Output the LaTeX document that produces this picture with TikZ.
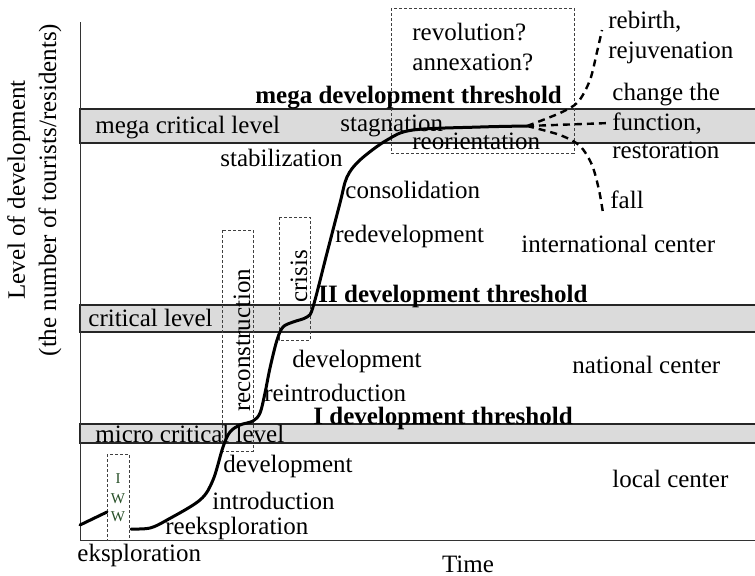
\documentclass[tikz,border=0pt]{standalone}
\usepackage{fontspec}
\setmainfont{Liberation Serif}
\usetikzlibrary{calc}
\definecolor{iwwgreen}{RGB}{40,80,40}
\tikzset{
  lbl/.style={font=\fontsize{12.5}{15}\selectfont, inner sep=0pt, anchor=base west},
  thr/.style={lbl, font=\fontsize{12.5}{15}\selectfont\bfseries},
  band/.style={fill=black!14},
  bandline/.style={line width=1pt, black!85},
  phasebox/.style={draw=black!75, line width=0.4pt, dash pattern=on 1.5pt off 1pt},
  trend/.style={line width=1.5pt, line cap=round, line join=round},
  branch/.style={line width=1.2pt, dash pattern=on 3.5pt off 2.5pt},
}
\begin{document}
\begin{tikzpicture}[x=0.5pt,y=-0.5pt]
\useasboundingbox (0,0) rectangle (755,575);
% critical bands
\fill[band] (80,109) rectangle (755,143);
\draw[bandline] (755,109) -- (80,109) -- (80,143) -- (755,143);
\fill[band] (80,305) rectangle (755,332);
\draw[bandline] (755,305) -- (80,305) -- (80,332) -- (755,332);
\fill[band] (80,424) rectangle (755,443);
\draw[bandline] (755,424) -- (80,424) -- (80,443) -- (755,443);
% axes
\draw[black!80,line width=0.5pt] (80,22) -- (80,540) -- (755,540);
% phase boxes
\draw[phasebox] (391,8) rectangle (574,153);
\draw[phasebox] (279,217) rectangle (310,340);
\draw[phasebox] (222,230) rectangle (253,451);
\draw[phasebox] (107,454) rectangle (129,540);
% development curve
\draw[trend] (80,525) -- (107,512);
\draw[trend] plot[smooth,tension=0.55] coordinates {(131,529) (150,528) (167,520) (200,500) (213,480) (223,447) (230,432) (240,425) (253,421) (260,413) (265,393) (270,368) (277,340) (283,327) (293,322) (307,317) (313,307) (327,253) (340,203) (347,177) (360,160) (387,140) (413,130) (480,127) (527,126)};
\coordinate (fork) at (527,126);
\coordinate (up) at (602,30);
\coordinate (mid) at (610,123);
\coordinate (down) at (603,213);
\draw[branch] plot[smooth] coordinates {(fork) (560,113) (578,102) (590,80) (597,52) (up)};
\draw[branch] (fork) -- (mid);
\draw[branch] plot[smooth] coordinates {(fork) (560,135) (580,146) (592,165) (599,190) (down)};
% thresholds and levels
\node[thr] (megathr) at (255,103) {mega development threshold};
\node[thr] (twothr) at (318,302) {II development threshold};
\node[thr] (onethr) at (313,424) {I development threshold};
\node[lbl] (megalvl) at (95,133) {mega critical level};
\node[lbl] (critlvl) at (88,326) {critical level};
\node[lbl] (microlvl) at (95,442) {micro critical level};
% stages
\node[lbl] (eksp) at (77,561) {eksploration};
\node[lbl] (reeksp) at (165,534) {reeksploration};
\node[lbl] (intro) at (212,509) {introduction};
\node[lbl] (devone) at (223,472) {development};
\node[lbl] (reintro) at (264,401) {reintroduction};
\node[lbl] (devtwo) at (292,367) {development};
\node[lbl] (redev) at (335,242) {redevelopment};
\node[lbl] (consol) at (345,198) {consolidation};
\node[lbl] (stabil) at (220,166) {stabilization};
\node[lbl] (stagn) at (340,131) {stagnation};
\node[lbl] (reorient) at (412,149) {reorientation};
\node[lbl] (revol) at (412,40) {revolution?};
\node[lbl] (annex) at (412,70) {annexation?};
\node[lbl] (rebirth) at (608,28) {rebirth,};
\node[lbl] (rejuv) at (608,58) {rejuvenation};
\node[lbl] (change) at (612,100) {change the};
\node[lbl] (func) at (612,130) {function,};
\node[lbl] (restor) at (612,158) {restoration};
\node[lbl] (fall) at (610,208) {fall};
\node[lbl,rotate=90] (recon) at (250,412) {reconstruction};
\node[lbl,rotate=90] (crisis) at (307,303) {crisis};
\node[font=\fontsize{7.5}{9}\selectfont,text=iwwgreen,inner sep=0pt,anchor=base] (iwwa) at (118,483) {I};
\node[font=\fontsize{7.5}{9}\selectfont,text=iwwgreen,inner sep=0pt,anchor=base] (iwwb) at (118,503) {W};
\node[font=\fontsize{7.5}{9}\selectfont,text=iwwgreen,inner sep=0pt,anchor=base] (iwwc) at (118,521) {W};
% centers
\node[lbl] (intl) at (521,252) {international center};
\node[lbl] (natl) at (572,373) {national center};
\node[lbl] (locl) at (612,487) {local center};
% axis titles
\node[lbl,anchor=base] (time) at (468,572) {Time};
\node[lbl,anchor=base,rotate=90] (ylabA) at (25,190) {Level of development};
\node[lbl,anchor=base,rotate=90] (ylabB) at (56,190) {(the number of tourists/residents)};
\end{tikzpicture}
\end{document}
